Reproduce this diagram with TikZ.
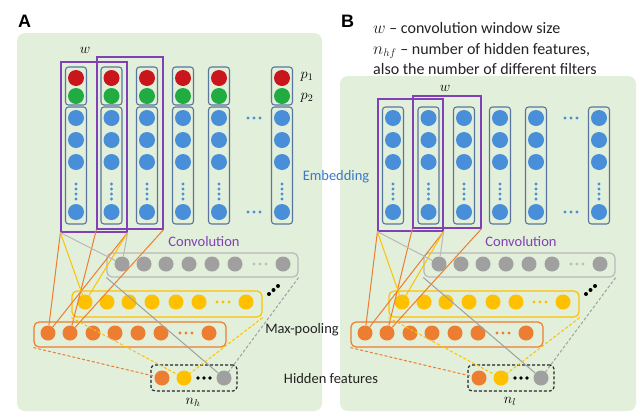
\documentclass[tikz,border=0pt]{standalone}
\usepackage{fontspec}
\setmainfont{Carlito}
\newfontfamily\headfont{Liberation Sans}
\definecolor{panelbg}{RGB}{226,239,218}
\definecolor{cred}{RGB}{200,22,28}
\definecolor{cgreen}{RGB}{32,172,64}
\definecolor{cblue}{RGB}{72,142,216}
\definecolor{colline}{RGB}{88,118,158}
\definecolor{cpurple}{RGB}{128,64,182}
\definecolor{cgray}{RGB}{160,160,160}
\definecolor{cgrayline}{RGB}{185,185,185}
\definecolor{cyellow}{RGB}{255,192,0}
\definecolor{corange}{RGB}{237,125,49}
\definecolor{embblue}{RGB}{60,120,200}
\definecolor{txtgray}{RGB}{35,35,35}
\tikzset{
  dot/.style={circle, inner sep=0pt, minimum size=16pt},
  rdot/.style={circle, inner sep=0pt, minimum size=15pt},
  small/.style={circle, inner sep=0pt, minimum size=3.4pt},
  colbox/.style={draw=colline, line width=1.1pt, rounded corners=3pt, minimum width=21pt, inner sep=0pt},
  win/.style={draw=cpurple, line width=1.2pt, inner sep=0pt},
  rowbox/.style={line width=1.2pt, rounded corners=5pt, inner sep=0pt},
  lbl/.style={font=\fontsize{14.5}{17}\selectfont, inner sep=0pt},
  leg/.style={font=\fontsize{16}{19}\selectfont, inner sep=0pt, text=txtgray, anchor=base west},
  mlbl/.style={font=\fontsize{14}{16}\selectfont, inner sep=0pt},
  conn/.style={line width=1pt},
  dconn/.style={line width=1pt, dash pattern=on 3pt off 2pt},
}
\newcommand\mypanel[2]{%
\begin{scope}[xshift=#2pt]
  \foreach \x [count=\i] in {76,111.5,147,183,219,282}{
    \node[colbox, minimum height=117pt] (#1c\i) at (\x,165.5) {};
    \foreach \y [count=\j] in {118,140,162,212}
      \node[dot, fill=cblue] (#1b\i-\j) at (\x,\y) {};
    \foreach \y [count=\j] in {184,189,194,199}
      \node[small, fill=cblue] (#1v\i-\j) at (\x,\y) {};
  }
  \foreach \y in {118,212}
    \foreach \dx [count=\k] in {-6,0,6}
      \node[small, fill=cblue] (#1h\y-\k) at (254+\dx,\y) {};
  % convolution row (gray)
  \node[rowbox, draw=cgrayline, minimum width=191pt, minimum height=24pt] (#1G) at (202.5,265) {};
  \foreach \x [count=\i] in {122,144,166,189,212,235,283}
    \node[rdot, fill=cgray] (#1g\i) at (\x,264) {};
  \foreach \x [count=\i] in {254,260,266}
    \node[small, fill=cgray!70] (#1gd\i) at (\x,264) {};
  % yellow row
  \node[rowbox, draw=cyellow, minimum width=190pt, minimum height=26pt] (#1Y) at (167,304) {};
  \foreach \x [count=\i] in {85,107,129,152,176,199,246}
    \node[rdot, fill=cyellow] (#1y\i) at (\x,302) {};
  \foreach \x [count=\i] in {217,223,229}
    \node[small, fill=cyellow] (#1yd\i) at (\x,302) {};
  % diagonal dots
  \foreach \p [count=\i] in {(269,294),(273.5,290),(278,286)}
    \node[small, fill=black, minimum size=4pt] (#1dd\i) at \p {};
  % orange row
  \node[rowbox, draw=corange, minimum width=192pt, minimum height=25pt] (#1O) at (130,334.5) {};
  \foreach \x [count=\i] in {48,70,93,115,138,161,209}
    \node[rdot, fill=corange] (#1o\i) at (\x,333) {};
  \foreach \x [count=\i] in {180,186,192}
    \node[small, fill=corange] (#1od\i) at (\x,333) {};
  % hidden features
  \node[rowbox, draw=black!85, dash pattern=on 3pt off 2pt, rounded corners=4pt, minimum width=86pt, minimum height=26pt] (#1H) at (194,378) {};
  \node[rdot, fill=corange] (#1HO) at (162,378) {};
  \node[rdot, fill=cyellow] (#1HY) at (184,378) {};
  \foreach \x [count=\i] in {198,204,210}
    \node[small, fill=black, minimum size=3.8pt] (#1hd\i) at (\x,378) {};
  \node[rdot, fill=cgray] (#1HG) at (224,378) {};
  \node[lbl, text=cpurple] (#1conv) at (204,242) {Convolution};
  % connectors
  \draw[conn, corange] (#1W1.south west) -- (#1o1);
  \draw[conn, corange] (#1W1.south east) -- (#1o1);
  \draw[conn, corange] (#1W2.south west) -- (#1o2);
  \draw[conn, corange] (#1W2.south east) -- (#1o2);
  \draw[conn, cyellow] (#1W1.south west) -- (#1y1);
  \draw[conn, cyellow] (#1W1.south east) -- (#1y1);
  \draw[conn, cgrayline] (#1W1.south west) -- (#1g1);
  \draw[conn, cgrayline] (#1W1.south east) -- (#1g1);
  \draw[conn, cgray] (#1G.south west) -- (#1HG);
  \draw[dconn, cgray] (#1G.south east) -- (#1HG);
  \draw[dconn, cyellow] (#1Y.south west) -- (#1HY);
  \draw[dconn, cyellow] (#1Y.south east) -- (#1HY);
  \draw[dconn, corange] (#1O.south west) -- (#1HO);
\end{scope}}
\begin{document}
\begin{tikzpicture}[x=1pt, y=-1pt]
\useasboundingbox (0,0) rectangle (637,413);
\fill[white] (0,0) rectangle (637,413);
% panels
\fill[panelbg, rounded corners=8pt] (17,33) rectangle (322,411);
\fill[panelbg, rounded corners=8pt] (340,76) rectangle (636,411);
% panel A top boxes p1 p2
\foreach \x [count=\i] in {76,111.5,147,183,219,282}{
  \node[colbox, minimum height=38pt] (Apb\i) at (\x,86) {};
  \node[dot, fill=cred] (Ar\i) at (\x,78) {};
  \node[dot, fill=cgreen] (Ag\i) at (\x,96) {};
}
% windows
\node[win, minimum width=66pt, minimum height=170pt] (AW1) at (94,147) {};
\node[win, minimum width=66pt, minimum height=172pt] (AW2) at (130,143) {};
\node[win, minimum width=65pt, minimum height=132pt] (BW1) at (410.5,165) {};
\node[win, minimum width=68pt, minimum height=132pt] (BW2) at (447,162) {};
\mypanel{A}{0}
\mypanel{B}{317}
% labels
\node[font=\headfont\bfseries\fontsize{18}{20}\selectfont, inner sep=0pt] (labA) at (24.5,21) {A};
\node[font=\headfont\bfseries\fontsize{18}{20}\selectfont, inner sep=0pt] (labB) at (347.5,21) {B};
\node[mlbl] (wA) at (85,50) {$w$};
\node[mlbl] (wB) at (445,88) {$w$};
\node[mlbl] (p1) at (307,77) {$p_1$};
\node[mlbl] (p2) at (307,98) {$p_2$};
\node[mlbl] (nA) at (193,402) {$n_h$};
\node[mlbl] (nB) at (510,401) {$n_l$};
\node[lbl, text=embblue] (emb) at (336,177) {Embedding};
\node[lbl, text=txtgray] (mp) at (302,330) {Max-pooling};
\node[lbl, text=txtgray] (hf) at (331,379) {Hidden features};
\node[leg] (leg1) at (373,33.5) {$w$ -- convolution window size};
\node[leg] (leg2) at (373,54) {$n_{hf}$ -- number of hidden features,};
\node[leg] (leg3) at (373,74) {also the number of different filters};
\end{tikzpicture}
\end{document}
